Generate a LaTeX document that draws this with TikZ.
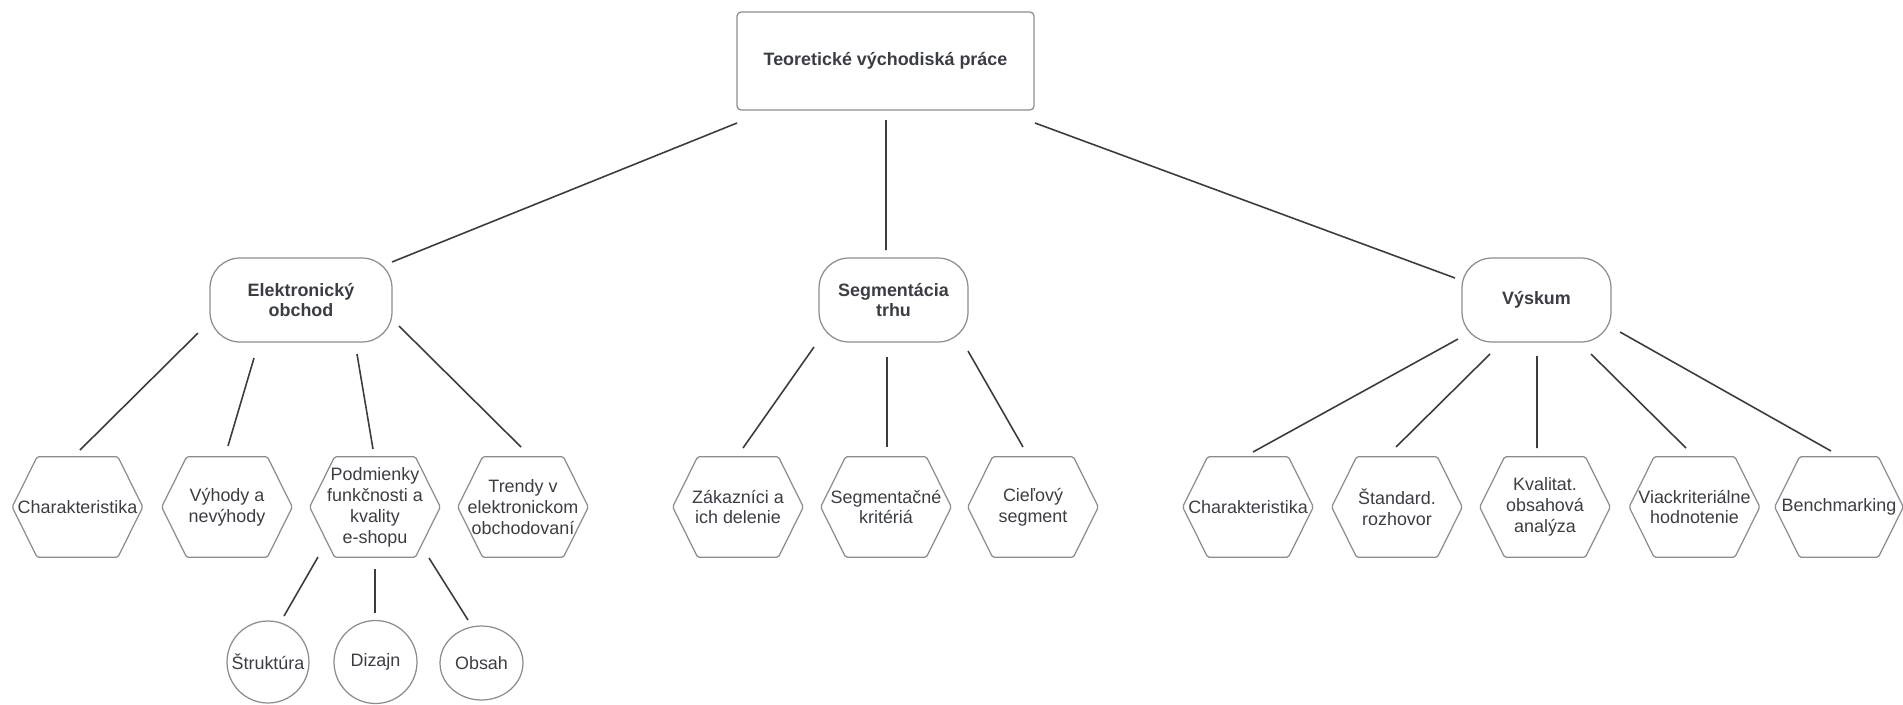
\documentclass[tikz,border=0pt]{standalone}
\usepackage{fontspec}
\setmainfont{Liberation Sans}
\usetikzlibrary{shapes.geometric}

\definecolor{txt}{HTML}{3A3E44}
\definecolor{frame}{HTML}{8C8C8C}
\definecolor{wirecol}{HTML}{3C3C3C}

\tikzset{
  base/.style={text=txt, font=\fontsize{10.2}{11.9}\selectfont, align=center, inner sep=0pt},
  bold/.style={font=\bfseries\fontsize{10.2}{11.9}\selectfont},
  rootbox/.style={base, bold, draw=frame, line width=0.7pt, rounded corners=0.08cm,
    minimum width=5.94cm, minimum height=1.96cm},
  topicbox/.style={base, bold, draw=frame, line width=0.7pt, rounded corners=0.6cm,
    minimum height=1.68cm},
  hexbox/.style={base, minimum width=2.6cm, minimum height=2cm},
  hexline/.style={draw=frame, line width=0.7pt, rounded corners=1pt},
  roundbox/.style={base, draw=frame, line width=0.7pt, circle, minimum size=1.64cm},
  ovalbox/.style={base, draw=frame, line width=0.7pt, ellipse, minimum width=1.66cm, minimum height=1.48cm},
  wire/.style={draw=wirecol, line width=0.9pt},
}

% six-sided outline around a rectangular text node
\newcommand\hexframe[1]{%
  \draw[hexline] (#1.west) -- ([xshift=0.5cm]#1.north west) -- ([xshift=-0.5cm]#1.north east)
    -- (#1.east) -- ([xshift=-0.5cm]#1.south east) -- ([xshift=0.5cm]#1.south west) -- cycle;}

\begin{document}
\begin{tikzpicture}[x=0.02cm, y=-0.02cm]
  \useasboundingbox[fill=white] (0,0) rectangle (1903,704);

  % root
  \node[rootbox] (root) at (885.5,61) {Teoretické východiská práce};

  % main topics
  \node[topicbox, minimum width=3.64cm] (el)  at (301,300)    {Elektronický\\obchod};
  \node[topicbox, minimum width=2.98cm] (seg) at (893.5,300)  {Segmentácia\\trhu};
  \node[topicbox, minimum width=2.98cm] (vy)  at (1536.5,300) {Výskum};

  % subtopics
  \node[hexbox] (c1)  at (77.5,507) {Charakteristika};
  \node[hexbox] (c2)  at (227,507)  {Výhody a\\nevýhody};
  \node[hexbox] (c3)  at (375,507)  {Podmienky\\funkčnosti a\\kvality\\e-shopu};
  \node[hexbox] (c4)  at (523,507)  {Trendy v\\elektronickom\\obchodovaní};
  \node[hexbox] (c5)  at (738,507)  {Zákazníci a\\ich delenie};
  \node[hexbox] (c6)  at (886,507)  {Segmentačné\\kritériá};
  \node[hexbox] (c7)  at (1033,507) {Cieľový\\segment};
  \node[hexbox] (c8)  at (1248,507) {Charakteristika};
  \node[hexbox] (c9)  at (1397,507) {Štandard.\\rozhovor};
  \node[hexbox] (c10) at (1545,507) {Kvalitat.\\obsahová\\analýza};
  \node[hexbox] (c11) at (1694.5,507) {Viackriteriálne\\hodnotenie};
  \node[hexbox, minimum width=2.56cm] (c12) at (1839,507) {Benchmarking};

  \foreach \n in {c1,c2,c3,c4,c5,c6,c7,c8,c9,c10,c11,c12} {\hexframe{\n}}

  % e-shop quality aspects
  \node[roundbox] (s1) at (268,662)   {Štruktúra};
  \node[roundbox, minimum size=1.66cm] (s2) at (375.5,662) {Dizajn};
  \node[ovalbox]  (s3) at (481.5,663) {Obsah};

  % connectors
  \draw[wire] ([shift={(-148.5,62)}]root.center) -- ([shift={(91,-38)}]el.center);
  \draw[wire] ([shift={(0.5,59)}]root.center) -- ([shift={(-7.5,-50)}]seg.center);
  \draw[wire] ([shift={(149.5,62)}]root.center) -- ([shift={(-81.5,-22)}]vy.center);

  \draw[wire] ([shift={(-103,33)}]el.center) -- ([shift={(2.5,-57)}]c1.center);
  \draw[wire] ([shift={(-47,58)}]el.center)  -- ([shift={(1,-61)}]c2.center);
  \draw[wire] ([shift={(56,54)}]el.center)   -- ([shift={(-2,-58)}]c3.center);
  \draw[wire] ([shift={(98,26)}]el.center)   -- ([shift={(-2,-60)}]c4.center);

  \draw[wire] ([shift={(-79.5,47)}]seg.center) -- ([shift={(5,-59)}]c5.center);
  \draw[wire] ([shift={(-6.5,57)}]seg.center)  -- ([shift={(1,-60)}]c6.center);
  \draw[wire] ([shift={(74.5,51)}]seg.center)  -- ([shift={(-10,-60)}]c7.center);

  \draw[wire] ([shift={(-78.5,39)}]vy.center) -- ([shift={(5,-55)}]c8.center);
  \draw[wire] ([shift={(-46.5,54)}]vy.center) -- ([shift={(-1,-60)}]c9.center);
  \draw[wire] ([shift={(0.5,56)}]vy.center)   -- ([shift={(-8,-59)}]c10.center);
  \draw[wire] ([shift={(54.5,54)}]vy.center)  -- ([shift={(-8.5,-59)}]c11.center);
  \draw[wire] ([shift={(83.5,32)}]vy.center)  -- ([shift={(-8,-56)}]c12.center);

  \draw[wire] ([shift={(-57,50)}]c3.center) -- ([shift={(16,-46)}]s1.center);
  \draw[wire] ([shift={(0,62)}]c3.center)   -- ([shift={(-0.5,-49)}]s2.center);
  \draw[wire] ([shift={(54,51)}]c3.center)  -- ([shift={(-13.5,-43)}]s3.center);
\end{tikzpicture}
\end{document}
